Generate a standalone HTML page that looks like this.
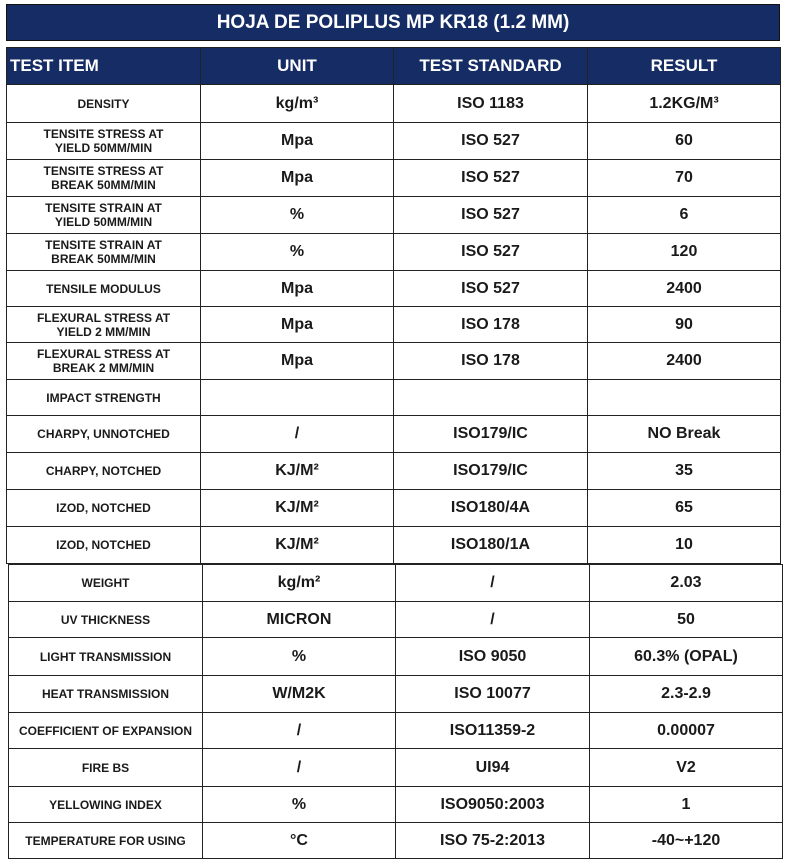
<!DOCTYPE html><html><head><style>
body{margin:0;width:785px;height:863px;background:#fff;font-family:"Liberation Sans",sans-serif;position:relative;overflow:hidden}
.t{position:absolute;left:6px;top:4px;width:772px;height:35px;background:#162c64;border:1px solid #111;color:#fff;font-weight:bold;font-size:19px;text-align:center;line-height:35px}
table{position:absolute;border-collapse:collapse;table-layout:fixed;color:#1a1a1a;font-weight:bold}
td{border:1.5px solid #222;text-align:center;padding:0;font-size:16px}
td:first-child{font-size:12px;line-height:14px}
tr.h td{background:#162c64;color:#fff;font-size:17px}
tr.h td:first-child{text-align:left;font-size:17px;padding-left:3px}
</style></head><body>
<div class="t">HOJA DE POLIPLUS MP KR18 (1.2 MM)</div>
<table style="left:6px;top:47px;width:774px">
<colgroup><col style="width:194px"><col style="width:193px"><col style="width:194px"><col style="width:193px"></colgroup>
<tr class="h" style="height:37px"><td>TEST ITEM</td><td>UNIT</td><td>TEST STANDARD</td><td>RESULT</td></tr>
<tr style="height:38px"><td>DENSITY</td><td>kg/m³</td><td>ISO 1183</td><td>1.2KG/M³</td></tr>
<tr style="height:37px"><td>TENSITE STRESS AT<br>YIELD 50MM/MIN</td><td>Mpa</td><td>ISO 527</td><td>60</td></tr>
<tr style="height:37px"><td>TENSITE STRESS AT<br>BREAK 50MM/MIN</td><td>Mpa</td><td>ISO 527</td><td>70</td></tr>
<tr style="height:37px"><td>TENSITE STRAIN AT<br>YIELD 50MM/MIN</td><td>%</td><td>ISO 527</td><td>6</td></tr>
<tr style="height:37px"><td>TENSITE STRAIN AT<br>BREAK 50MM/MIN</td><td>%</td><td>ISO 527</td><td>120</td></tr>
<tr style="height:36px"><td>TENSILE MODULUS</td><td>Mpa</td><td>ISO 527</td><td>2400</td></tr>
<tr style="height:36px"><td>FLEXURAL STRESS AT<br>YIELD 2 MM/MIN</td><td>Mpa</td><td>ISO 178</td><td>90</td></tr>
<tr style="height:37px"><td>FLEXURAL STRESS AT<br>BREAK 2 MM/MIN</td><td>Mpa</td><td>ISO 178</td><td>2400</td></tr>
<tr style="height:36px"><td>IMPACT STRENGTH</td><td></td><td></td><td></td></tr>
<tr style="height:37px"><td>CHARPY, UNNOTCHED</td><td>/</td><td>ISO179/IC</td><td>NO Break</td></tr>
<tr style="height:37px"><td>CHARPY, NOTCHED</td><td>KJ/M²</td><td>ISO179/IC</td><td>35</td></tr>
<tr style="height:37px"><td>IZOD, NOTCHED</td><td>KJ/M²</td><td>ISO180/4A</td><td>65</td></tr>
<tr style="height:37px"><td>IZOD, NOTCHED</td><td>KJ/M²</td><td>ISO180/1A</td><td>10</td></tr>
</table>
<table style="left:8px;top:564px;width:774px">
<colgroup><col style="width:194px"><col style="width:193px"><col style="width:194px"><col style="width:193px"></colgroup>
<tr style="height:37px"><td>WEIGHT</td><td>kg/m²</td><td>/</td><td>2.03</td></tr>
<tr style="height:36px"><td>UV THICKNESS</td><td>MICRON</td><td>/</td><td>50</td></tr>
<tr style="height:38px"><td>LIGHT TRANSMISSION</td><td>%</td><td>ISO 9050</td><td>60.3% (OPAL)</td></tr>
<tr style="height:37px"><td>HEAT TRANSMISSION</td><td>W/M2K</td><td>ISO 10077</td><td>2.3-2.9</td></tr>
<tr style="height:36px"><td>COEFFICIENT OF EXPANSION</td><td>/</td><td>ISO11359-2</td><td>0.00007</td></tr>
<tr style="height:38px"><td>FIRE BS</td><td>/</td><td>UI94</td><td>V2</td></tr>
<tr style="height:36px"><td>YELLOWING INDEX</td><td>%</td><td>ISO9050:2003</td><td>1</td></tr>
<tr style="height:36px"><td>TEMPERATURE FOR USING</td><td>°C</td><td>ISO 75-2:2013</td><td>-40~+120</td></tr>
</table>
</body></html>
